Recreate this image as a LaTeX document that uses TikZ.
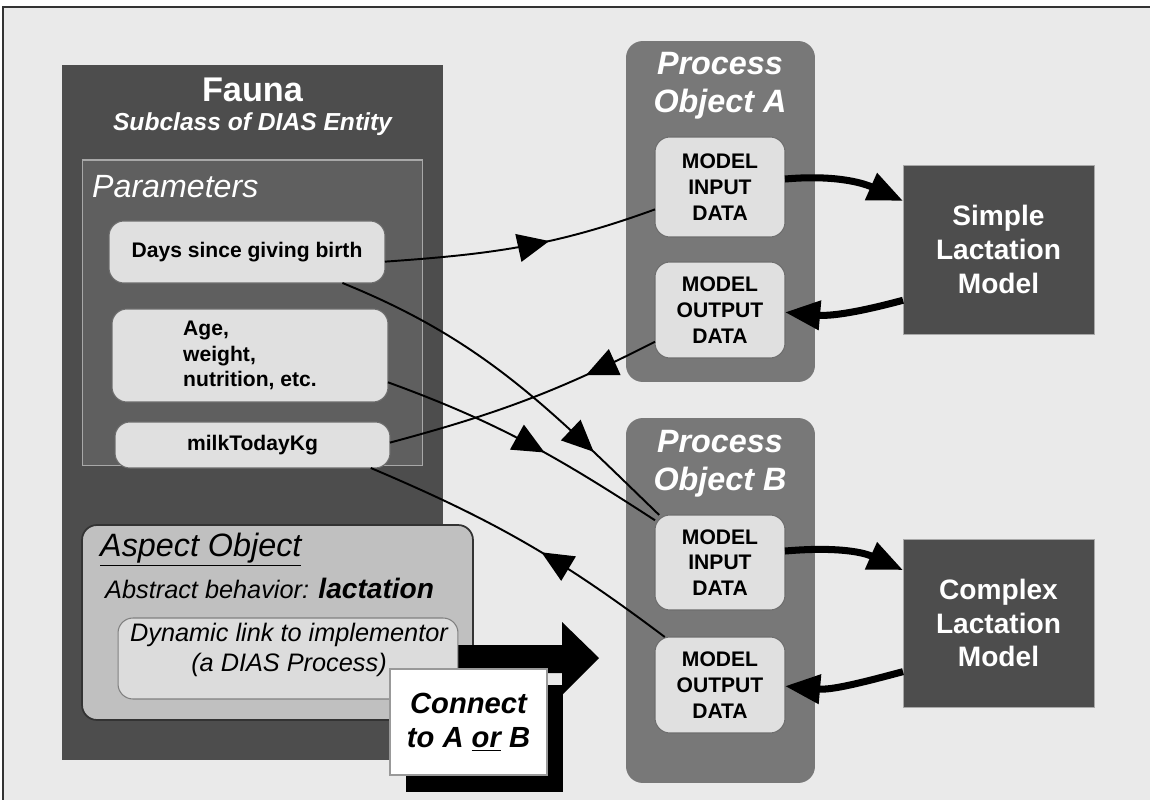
\documentclass[tikz,border=0pt]{standalone}
\usepackage{fontspec}
\setmainfont{Liberation Sans}
\usetikzlibrary{arrows.meta,decorations.markings}
\definecolor{bggray}{HTML}{EAEAEA}
\definecolor{faunagray}{HTML}{4D4D4D}
\definecolor{paramgray}{HTML}{5F5F5F}
\definecolor{paramedge}{HTML}{A8A8A8}
\definecolor{lightbox}{HTML}{E0E0E0}
\definecolor{boxedge}{HTML}{6E6E6E}
\definecolor{procgray}{HTML}{787878}
\definecolor{aspectgray}{HTML}{C0C0C0}
\definecolor{dyngray}{HTML}{DCDCDC}
\definecolor{framegray}{HTML}{333333}

\tikzset{
  plain/.style={inner sep=0pt, outer sep=0pt},
  parambox/.style={plain, draw=boxedge, fill=lightbox, line width=0.6pt,
    rounded corners=8.5pt, align=center, font=\fontsize{12}{14.7}\selectfont\bfseries},
  procbox/.style={plain, fill=procgray, rounded corners=9.5pt},
  modelbox/.style={plain, fill=faunagray, draw=paramedge, line width=0.5pt,
    text=white, align=center, font=\fontsize{16}{19.3}\selectfont\bfseries},
  proctitle/.style={text=white, align=center, font=\fontsize{18.4}{21.5}\selectfont\bfseries\itshape},
  link/.style={line width=1.1pt},
  midarrow/.style={postaction={decorate,decoration={markings,
    mark=at position #1 with {\arrow{Triangle[length=18pt,width=16pt]}}}}},
  flow/.style={line width=4pt, -{Triangle[length=20pt,width=16pt]}},
}

\begin{document}
\begin{tikzpicture}[x=0.02cm,y=-0.02cm]
\useasboundingbox (0,0) rectangle (1150,800);
\fill[white] (0,0) rectangle (1150,800);
\fill[bggray] (3,7) rectangle (1150,800);
\draw[framegray, line width=1.2pt] (3,800) -- (3,7) -- (1150,7);

% Fauna entity
\node[plain, fill=faunagray, minimum width=7.62cm, minimum height=13.9cm] (fauna) at (252.5,412.5) {};
\node[text=white, font=\fontsize{19.5}{22}\selectfont\bfseries] (faunaname) at (252.5,90) {Fauna};
\node[text=white, font=\fontsize{14}{16}\selectfont\bfseries\itshape] (faunasub) at (252.5,124) {Subclass of DIAS Entity};

% parameters
\node[plain, fill=paramgray, draw=paramedge, line width=0.6pt, minimum width=6.82cm, minimum height=6.12cm] (params) at (252.5,313) {};
\node[anchor=west, text=white, font=\fontsize{18.3}{21}\selectfont\itshape] (paramtitle) at (86,187) {Parameters};
\node[parambox, minimum width=5.52cm, minimum height=1.24cm] (days) at (247,252) {Days since giving birth};
\node[parambox, minimum width=5.52cm, minimum height=1.86cm, align=left] (age) at (250,355.5) {Age,\\weight,\\nutrition, etc.};
\node[parambox, minimum width=5.5cm, minimum height=0.92cm] (milk) at (252.5,445) {milkTodayKg};

% aspect object
\node[plain, fill=aspectgray, draw=framegray, line width=1pt, rounded corners=8.5pt,
  minimum width=7.82cm, minimum height=3.9cm] (aspect) at (277.5,622.5) {};
\node[anchor=west, font=\fontsize{18.4}{21}\selectfont\itshape] (aspecttitle) at (94,550) {\underline{Aspect Object}};
\node[anchor=west, font=\fontsize{14.4}{17}\selectfont\itshape] (behavior) at (99,588)
  {Abstract behavior: {\fontsize{16}{17}\selectfont\bfseries lactation}};

% connect arrow
\fill (450,645) -- (562,645) -- (562,622) -- (599,658) -- (562,695) -- (562,673) -- (450,673) -- cycle;
\node[plain, fill=dyngray, draw=gray, line width=0.6pt, rounded corners=8.5pt,
  minimum width=6.8cm, minimum height=1.62cm] (dynlink) at (288,658.5) {};
\node[align=center, font=\fontsize{14.4}{17}\selectfont\itshape] (dyntext) at (289,650)
  {Dynamic link to implementor\\(a DIAS Process)};
\fill (406,685) rectangle (563,792);
\node[plain, fill=white, draw=gray!80, line width=0.6pt, minimum width=3.14cm, minimum height=2.12cm,
  align=center, font=\fontsize{16.6}{19.3}\selectfont\bfseries\itshape] (connect) at (468.5,722)
  {Connect\\to A \underline{or} B};

% process objects
\node[procbox, minimum width=3.78cm, minimum height=6.82cm] (procA) at (720.5,211.5) {};
\node[proctitle] (procAname) at (720,86) {Process\\Object A};
\node[parambox, minimum width=2.6cm, minimum height=2.0cm] (inA) at (720,187) {MODEL\\INPUT\\DATA};
\node[parambox, minimum width=2.6cm, minimum height=1.92cm] (outA) at (720,310) {MODEL\\OUTPUT\\DATA};

\node[procbox, minimum width=3.78cm, minimum height=7.3cm] (procB) at (720.5,600.5) {};
\node[proctitle] (procBname) at (720,464) {Process\\Object B};
\node[parambox, minimum width=2.6cm, minimum height=1.9cm] (inB) at (720,562.5) {MODEL\\INPUT\\DATA};
\node[parambox, minimum width=2.6cm, minimum height=1.92cm] (outB) at (720,685) {MODEL\\OUTPUT\\DATA};

% models
\node[modelbox, minimum width=3.82cm, minimum height=3.38cm] (simple) at (998.5,249.5) {Simple\\Lactation\\Model};
\node[modelbox, minimum width=3.82cm, minimum height=3.36cm] (complex) at (998.5,623) {Complex\\Lactation\\Model};

% data links
\draw[link, midarrow=0.6] (days.-4) to[out=4,in=200] (inA.199);
\draw[link, midarrow=0.77] (days.-18.6) to[out=-22,in=136] (inB.142);
\draw[link, midarrow=0.57] (age.-11) to[out=-20,in=147] (inB.147);
\draw[link, midarrow=0.27] (outA.206) to[out=207,in=15] (milk.1);
\draw[link, midarrow=0.44] (outB.139) to[out=143,in=-23] (milk.-11);

% model calls
\draw[flow] (inA.7) to[out=5,in=156] (simple.153.6);
\draw[flow] (simple.208.8) to[out=195,in=-5] (outA.-2);
\draw[flow] (inB.10.7) to[out=5,in=156] (complex.151.9);
\draw[flow] (complex.207.6) to[out=195,in=-5] (outB.-1);
\end{tikzpicture}
\end{document}
